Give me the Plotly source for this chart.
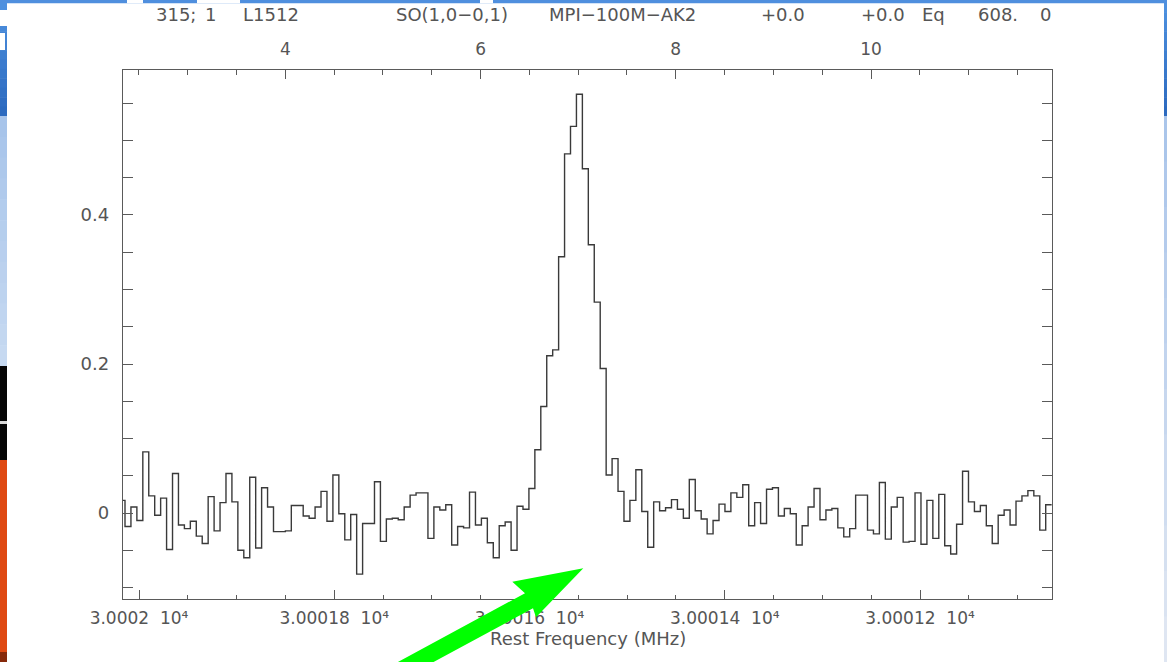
import numpy as np
import plotly.graph_objects as go

# ---- spectrum: SO(1,0-0,1) towards L1512, antenna temperature per channel ----
intensity = [
    0.017,
    -0.018, 0.008, -0.010, 0.082, 0.023, -0.003, 0.020, -0.049, 0.053, -0.016,
    -0.021, -0.011, -0.031, -0.041, 0.022, -0.024, 0.014, 0.053, 0.015, -0.050,
    -0.060, 0.048, -0.047, 0.034, 0.008, -0.025, -0.025, -0.024, 0.010, 0.010,
    -0.004, -0.007, 0.008, 0.029, -0.011, 0.051, -0.001, -0.036, -0.002, -0.082,
    -0.014, -0.014, 0.042, -0.038, -0.008, -0.007, -0.009, 0.008, 0.024, 0.027,
    0.027, -0.034, 0.008, 0.004, 0.011, -0.043, -0.018, -0.020, 0.028, -0.016,
    -0.007, -0.040, -0.060, -0.017, -0.012, -0.050, 0.009, 0.005, 0.033, 0.085,
    0.143, 0.211, 0.219, 0.344, 0.482, 0.519, 0.562, 0.462, 0.360, 0.283,
    0.194, 0.051, 0.073, 0.029, -0.011, 0.017, 0.058, 0.002, -0.046, 0.015,
    0.003, 0.007, 0.018, 0.005, -0.007, 0.045, 0.003, -0.008, -0.028, -0.010,
    0.012, 0.002, 0.027, 0.021, 0.038, -0.017, 0.014, -0.014, 0.032, 0.034,
    -0.004, 0.006, -0.001, -0.043, -0.017, 0.008, 0.033, -0.009, 0.004, 0.006,
    -0.020, -0.032, -0.021, 0.024, 0.024, -0.023, -0.028, 0.041, -0.035, 0.008,
    0.021, -0.039, -0.038, 0.027, -0.042, 0.017, -0.034, 0.025, -0.044, -0.055,
    -0.015, 0.056, 0.015, 0.002, 0.010, -0.017, -0.041, -0.003, 0.004, -0.016,
    0.016, 0.023, 0.030, 0.023, -0.023, 0.011,
]

# channel grid in LSR velocity (km/s): left edge of the first channel and width
FIRST_EDGE_KMS = 2.297
CHANNEL_WIDTH_KMS = 0.06085

velocity_range = [2.3374, 11.854]          # top axis (km/s)
frequency_range = [30002.0164, 30001.0648]  # bottom axis (MHz), decreasing
intensity_range = [-0.1154, 0.5946]

velocity_ticks = [4, 6, 8, 10]
frequency_ticks = [30002.0, 30001.8, 30001.6, 30001.4, 30001.2]
frequency_labels = ["3.0002", "3.00018", "3.00016", "3.00014", "3.00012"]
intensity_ticks = [0.0, 0.2, 0.4]
intensity_labels = ["0", "0.2", "0.4"]

header_items = [
    (176, "315;"), (210, "1"), (271, "L1512"),
    (452, "SO(1,0\u22120,1)"), (622, "MPI\u2212100M\u2212AK2"),
    (783, "+0.0"), (883, "+0.0"), (933, "Eq"),
    (998, "608."), (1045, "0"),
]

# ---- page geometry (pixels) ----
W, H = 1167, 662
L, R, T, B = 123, 1052, 70, 599
FONT = "DejaVu Sans"
INK = "#555555"
AXIS = "#5a5a5a"


def px(x):
    return (x - L) / (R - L)


def py(y):
    return (B - y) / (B - T)


edges = FIRST_EDGE_KMS + CHANNEL_WIDTH_KMS * np.arange(len(intensity) + 1)
steps = list(intensity) + [intensity[-1]]

fig = go.Figure()
# invisible anchor so the frequency axis gets its own subplot drawn
fig.add_trace(go.Scatter(
    x=frequency_range, y=[0, 0], xaxis="x", yaxis="y",
    mode="markers", marker=dict(opacity=0, size=1),
    hoverinfo="skip", showlegend=False,
))
fig.add_trace(go.Scatter(
    x=edges, y=steps, xaxis="x2", yaxis="y",
    mode="lines", line=dict(shape="hv", color="#3a3a3a", width=1.4),
    hoverinfo="skip", showlegend=False,
))

sp = "\u00a0\u00a0"

fig.update_layout(
    width=W, height=H, autosize=False,
    margin=dict(l=L, r=W - R, t=T, b=H - B, pad=0),
    paper_bgcolor="white", plot_bgcolor="white",
    showlegend=False,
    xaxis=dict(
        range=frequency_range, showgrid=False, zeroline=False,
        showline=True, linecolor=AXIS, linewidth=1.3,
        ticks="inside", ticklen=9, tickwidth=1.2, tickcolor=AXIS,
        tickmode="array", tickvals=frequency_ticks,
        ticktext=[f"{t}{sp}10\u2074" for t in frequency_labels],
        minor=dict(tickmode="linear", tick0=30002.0, dtick=0.05,
                   ticks="inside", ticklen=4, tickwidth=1.1, tickcolor=AXIS),
        tickfont=dict(family=FONT, size=17, color=INK), ticklabelstandoff=3,
    ),
    xaxis2=dict(
        range=velocity_range, overlaying="x", side="top", anchor="y",
        showgrid=False, zeroline=False,
        showline=True, linecolor=AXIS, linewidth=1.3,
        ticks="inside", ticklen=9, tickwidth=1.2, tickcolor=AXIS,
        tickmode="array", tickvals=velocity_ticks,
        ticktext=[str(v) for v in velocity_ticks],
        minor=dict(tickmode="linear", tick0=4, dtick=0.5,
                   ticks="inside", ticklen=5, tickwidth=1.1, tickcolor=AXIS),
        tickfont=dict(family=FONT, size=17, color=INK), ticklabelstandoff=7,
    ),
    yaxis=dict(
        range=intensity_range, showgrid=False, zeroline=False,
        showline=True, mirror="allticks", linecolor=AXIS, linewidth=1.3,
        ticks="inside", ticklen=10, tickwidth=1.2, tickcolor=AXIS,
        tickmode="array", tickvals=intensity_ticks, ticktext=intensity_labels,
        minor=dict(tickmode="linear", tick0=0, dtick=0.05,
                   ticks="inside", ticklen=5, tickwidth=1.1, tickcolor=AXIS),
        tickfont=dict(family=FONT, size=18, color=INK), ticklabelstandoff=9,
    ),
)

# header line above the frame
for cx, text in header_items:
    fig.add_annotation(
        x=px(cx), y=py(14), xref="paper", yref="paper",
        text=text, showarrow=False, xanchor="center", yanchor="middle",
        font=dict(family=FONT, size=18, color=INK),
    )

fig.add_annotation(
    x=px(588), y=py(638), xref="paper", yref="paper",
    text="Rest Frequency (MHz)", showarrow=False,
    xanchor="center", yanchor="middle",
    font=dict(family=FONT, size=18, color=INK),
)


# ---- slide backdrop around the white panel ----
def rect(x0, y0, x1, y1, color):
    fig.add_shape(type="rect", xref="paper", yref="paper",
                  x0=px(x0), x1=px(x1), y0=py(y1), y1=py(y0),
                  fillcolor=color, line=dict(width=0), layer="below")


def band(x0, x1, y0, y1, c0, c1, n=12):
    a = np.array([int(c0[i:i + 2], 16) for i in (1, 3, 5)], float)
    b = np.array([int(c1[i:i + 2], 16) for i in (1, 3, 5)], float)
    ys = np.linspace(y0, y1, n + 1)
    for i in range(n):
        c = a + (b - a) * (i + 0.5) / n
        rect(x0, ys[i], x1, ys[i + 1] + 0.5,
             "#%02x%02x%02x" % tuple(int(round(v)) for v in c))


rect(0, 0, W, 3.3, "#4f8fde")
rect(127, 0, 143, 3.3, "white")
rect(197, 0, 240, 3.3, "white")
rect(480, 0, 493, 3.3, "white")

band(0, 7, 3, 116, "#4f92e0", "#2a68be")
rect(0, 10, 7, 26, "white")
rect(0, 33, 5, 50, "white")
band(0, 7, 116, 366, "#a6c3ea", "#c7daf1")
rect(0, 366, 7, 460, "#050505")
rect(0, 421, 7, 424, "#d8d8d8")
rect(0, 460, 7, 652, "#df4912")
rect(0, 652, 7, H, "#86290a")

band(1164, W, 3, 116, "#4f92e0", "#2a68be")
band(1164, W, 116, H, "#a8c4ea", "#e1e7f2")

# green pointer towards the line centre
arrow = [(380.4, 671.5), (525, 593.2), (512.3, 581.7), (583.3, 568.3),
         (536, 617.3), (533, 608.2), (388.5, 686.4)]
path = "M " + " L ".join(f"{px(x):.5f},{py(y):.5f}" for x, y in arrow) + " Z"
fig.add_shape(type="path", xref="paper", yref="paper", path=path,
              fillcolor="#00ff00", line=dict(width=0), layer="above")

fig.write_html("out.html")
